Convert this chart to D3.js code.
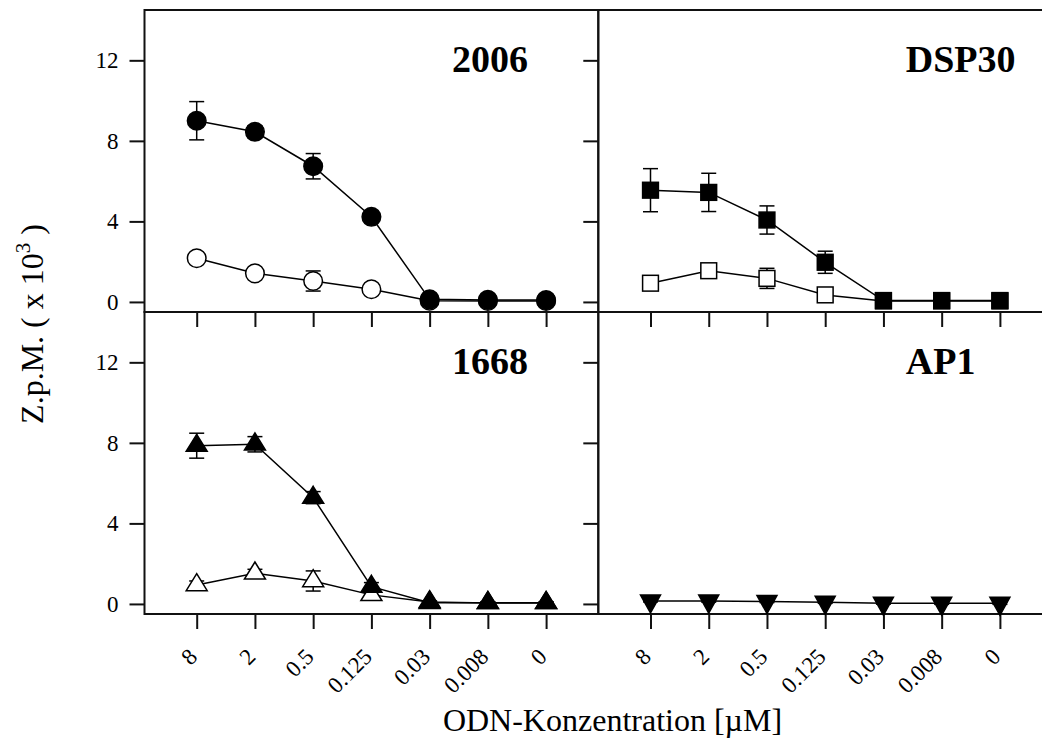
<!DOCTYPE html>
<html>
<head>
<meta charset="utf-8">
<script src="https://cdn.jsdelivr.net/npm/d3@7"></script>
<style>
  html, body { margin: 0; padding: 0; background: #fff; }
  svg { display: block; font-family: "Liberation Serif", "Times New Roman", serif; }
  .tick text { font-family: "Liberation Serif", "Times New Roman", serif; font-size: 23px; fill: #000; }
</style>
</head>
<body>
<svg id="chart" width="1042" height="738"></svg>
<script>
// ODN concentrations (µM) on the x axis, shared by all four panels
const concentrations = ["8", "2", "0.5", "0.125", "0.03", "0.008", "0"];
const yTickValues = [0, 4, 8, 12];

// Counts per minute (x 10^3); "solid" = filled symbols, "hollow" = open symbols
const odn2006Solid      = [9.0, 8.45, 6.74, 4.23, 0.13, 0.10, 0.09];
const odn2006SolidErr   = [0.95, 0.3, 0.63, 0.25, 0.05, 0.05, 0.05];
const odn2006Hollow     = [2.17, 1.42, 1.04, 0.63, 0.06, 0.05, 0.05];
const odn2006HollowErr  = [0.2, 0.2, 0.5, 0.2, 0.05, 0.05, 0.05];

const dsp30Solid        = [5.55, 5.44, 4.07, 1.97, 0.07, 0.07, 0.07];
const dsp30SolidErr     = [1.07, 0.95, 0.7, 0.55, 0.05, 0.05, 0.05];
const dsp30Hollow       = [0.93, 1.55, 1.17, 0.35, 0.05, 0.05, 0.05];
const dsp30HollowErr    = [0.2, 0.2, 0.5, 0.2, 0.05, 0.05, 0.05];

const odn1668Solid      = [7.86, 7.93, 5.28, 0.86, 0.06, 0.06, 0.06];
const odn1668SolidErr   = [0.62, 0.38, 0.3, 0.2, 0.05, 0.05, 0.05];
const odn1668Hollow     = [0.94, 1.52, 1.14, 0.45, 0.1, 0.05, 0.05];
const odn1668HollowErr  = [0.2, 0.2, 0.5, 0.2, 0.05, 0.05, 0.05];

const ap1Solid          = [0.15, 0.14, 0.12, 0.08, 0.04, 0.03, 0.03];
const ap1SolidErr       = [0.05, 0.05, 0.05, 0.05, 0.05, 0.05, 0.05];

const panelTitles = ["2006", "DSP30", "1668", "AP1"];

// panel geometry
const panelW = 453.8, panelH = 302;
const colX = [144.5, 598.3];
const rowY = [10, 312];
const pad = 52.2;

const panels = [
  { title: panelTitles[0], col: 0, row: 0, shape: "circle",
    series: [{ v: odn2006Hollow, e: odn2006HollowErr, fill: "#fff" },
             { v: odn2006Solid,  e: odn2006SolidErr,  fill: "#000" }] },
  { title: panelTitles[1], col: 1, row: 0, shape: "square",
    series: [{ v: dsp30Hollow, e: dsp30HollowErr, fill: "#fff" },
             { v: dsp30Solid,  e: dsp30SolidErr,  fill: "#000" }] },
  { title: panelTitles[2], col: 0, row: 1, shape: "triUp",
    series: [{ v: odn1668Hollow, e: odn1668HollowErr, fill: "#fff" },
             { v: odn1668Solid,  e: odn1668SolidErr,  fill: "#000" }] },
  { title: panelTitles[3], col: 1, row: 1, shape: "triDown",
    series: [{ v: ap1Solid, e: ap1SolidErr, fill: "#000" }] }
];

const svg = d3.select("#chart");

function markerPath(shape) {
  if (shape === "triUp") {
    const w = 21, h = 17;
    return `M0,${-2*h/3}L${w/2},${h/3}L${-w/2},${h/3}Z`;
  }
  if (shape === "triDown") {
    const w = 20, h = 18;
    return `M0,${2*h/3}L${w/2},${-h/3}L${-w/2},${-h/3}Z`;
  }
  return null;
}

panels.forEach(p => {
  const x0 = colX[p.col], y0 = rowY[p.row];
  const x = d3.scalePoint().domain(concentrations)
    .range([x0 + pad, x0 + panelW - pad]);
  const y = d3.scaleLinear().domain([-0.5, 14.5]).range([y0 + panelH, y0]);

  const g = svg.append("g");

  // y axis (labels only on the left column)
  const yAxis = d3.axisLeft(y).tickValues(yTickValues).tickSize(15).tickPadding(11)
    .tickFormat(p.col === 0 ? d3.format("d") : () => "");
  const ya = g.append("g").attr("transform", `translate(${x0},0)`).call(yAxis)
    .attr("font-size", 23).attr("font-family", "Liberation Serif, serif");
  ya.select(".domain").remove();
  ya.selectAll(".tick line").attr("stroke", "#111").attr("stroke-width", 2);
  ya.selectAll(".tick text").attr("fill", "#000");

  // x axis (rotated labels only on the bottom row)
  const xAxis = d3.axisBottom(x).tickSize(15)
    .tickFormat(p.row === 1 ? (d => d) : () => "");
  const xa = g.append("g").attr("transform", `translate(0,${y0 + panelH})`).call(xAxis)
    .attr("font-size", 23).attr("font-family", "Liberation Serif, serif");
  xa.select(".domain").remove();
  xa.selectAll(".tick line").attr("stroke", "#111").attr("stroke-width", 2);
  xa.selectAll(".tick text")
    .attr("x", 0).attr("y", 0).attr("dy", 0)
    .attr("transform", "translate(1.5,44) rotate(-45)")
    .attr("text-anchor", "end")
    .style("text-anchor", "end")
    .attr("fill", "#000");

  // frame
  g.append("rect")
    .attr("x", x0).attr("y", y0).attr("width", panelW).attr("height", panelH)
    .attr("fill", "none").attr("stroke", "#111").attr("stroke-width", 2);

  // panel title
  g.append("text")
    .attr("x", x0 + 307.5).attr("y", y0 + 61.5)
    .attr("font-weight", "bold").attr("font-size", 38)
    .attr("fill", "#000")
    .text(p.title);

  const line = d3.line().x((d, i) => x(concentrations[i])).y(d => y(d));

  p.series.forEach(s => {
    const sg = g.append("g");
    sg.append("path").datum(s.v)
      .attr("d", line).attr("fill", "none")
      .attr("stroke", "#000").attr("stroke-width", 1.5);

    // error bars
    const eb = sg.selectAll(".err").data(s.v).join("g");
    eb.append("line")
      .attr("x1", (d, i) => x(concentrations[i])).attr("x2", (d, i) => x(concentrations[i]))
      .attr("y1", (d, i) => y(d + s.e[i])).attr("y2", (d, i) => y(d - s.e[i]))
      .attr("stroke", "#000").attr("stroke-width", 1.5);
    [1, -1].forEach(sign => {
      eb.append("line")
        .attr("x1", (d, i) => x(concentrations[i]) - 7.5).attr("x2", (d, i) => x(concentrations[i]) + 7.5)
        .attr("y1", (d, i) => y(d + sign * s.e[i])).attr("y2", (d, i) => y(d + sign * s.e[i]))
        .attr("stroke", "#000").attr("stroke-width", 1.5);
    });

    // markers
    const mk = sg.selectAll(".mk").data(s.v).join("g")
      .attr("transform", (d, i) => `translate(${x(concentrations[i])},${y(d)})`);
    if (p.shape === "circle") {
      mk.append("circle").attr("r", 9.3);
    } else if (p.shape === "square") {
      mk.append("rect").attr("x", -7.9).attr("y", -7.9).attr("width", 15.8).attr("height", 15.8);
    } else {
      mk.append("path").attr("d", markerPath(p.shape));
    }
    mk.selectAll("circle, rect, path")
      .attr("fill", s.fill).attr("stroke", "#000").attr("stroke-width", 1.5);
  });
});

// axis titles
const yTitle = svg.append("text")
  .attr("transform", "translate(43,324) rotate(-90)")
  .attr("text-anchor", "middle")
  .attr("font-size", 32).attr("fill", "#000");
yTitle.append("tspan").text("Z.p.M. ( x 10");
yTitle.append("tspan").attr("font-size", 21).attr("dy", -13).text("3");
yTitle.append("tspan").attr("dy", 13).text(" )");

svg.append("text")
  .attr("x", 612.5).attr("y", 731)
  .attr("text-anchor", "middle")
  .attr("font-size", 32).attr("fill", "#000")
  .text("ODN-Konzentration [µM]");
</script>
</body>
</html>
